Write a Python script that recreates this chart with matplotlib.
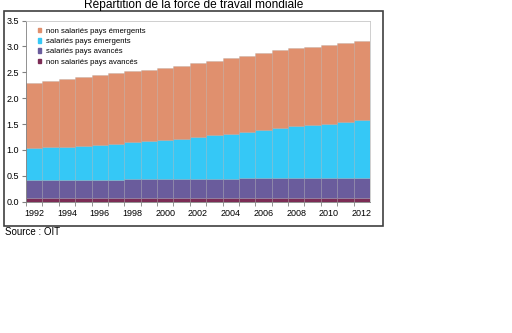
import matplotlib
matplotlib.use("Agg")
import matplotlib.pyplot as plt
import numpy as np
from matplotlib.patches import Rectangle

plt.rcParams['font.family'] = ['Liberation Sans', 'DejaVu Sans']

years = list(range(1992, 2013))
total = [2.29, 2.33, 2.37, 2.40, 2.44, 2.48, 2.52, 2.55, 2.59, 2.62, 2.67,
         2.71, 2.77, 2.82, 2.87, 2.93, 2.96, 2.99, 3.02, 3.06, 3.11]
blue_top = [1.04, 1.05, 1.06, 1.08, 1.10, 1.12, 1.15, 1.17, 1.20, 1.22, 1.25,
            1.28, 1.31, 1.34, 1.38, 1.43, 1.46, 1.48, 1.50, 1.53, 1.57]
purple_top = [0.41, 0.41, 0.41, 0.42, 0.42, 0.42, 0.43, 0.43, 0.43, 0.44, 0.44,
              0.44, 0.44, 0.45, 0.45, 0.45, 0.46, 0.46, 0.46, 0.46, 0.46]
red_top = [0.07] * 21

non_sal_av = np.array(red_top)
sal_av = np.array(purple_top) - non_sal_av
sal_em = np.array(blue_top) - np.array(purple_top)
non_sal_em = np.array(total) - np.array(blue_top)

labels = ["non salariés pays émergents", "salariés pays émergents",
          "salariés pays avancés", "non salariés pays avancés"]
colors = ["#E0906E", "#35C8F6", "#6A5C9C", "#7C2C55"]

fig = plt.figure(figsize=(5.12, 3.33), dpi=100)
ax = fig.add_axes([26/512, 1-201.7/333, 344/512, 181.2/333])

x = np.arange(len(years))
series = [non_sal_av, sal_av, sal_em, non_sal_em]
cols = [colors[3], colors[2], colors[1], colors[0]]
bottom = np.zeros(len(years))
for s, c in zip(series, cols):
    ax.bar(x, s, bottom=bottom, width=1.0, color=c, edgecolor=(0.6, 0.6, 0.6, 0.3),
           linewidth=0.5)
    bottom = bottom + s

ax.set_xlim(-0.5, len(years) - 0.5)
ax.set_ylim(0, 3.5)
ax.set_yticks(np.arange(0, 3.51, 0.5))
ax.set_yticklabels([f"{v:.1f}" for v in np.arange(0, 3.51, 0.5)], fontsize=6.5)
ax.set_xticks(x[::2])
ax.set_xticklabels([str(y) for y in years[::2]], fontsize=6.5)
ax.set_xticks(x - 0.5, minor=True)
ax.tick_params(axis='x', which='major', length=0, pad=5)
ax.tick_params(axis='x', which='minor', length=3, color='#808080')
ax.tick_params(axis='y', length=3, color='#808080', pad=2)
for side in ['top', 'right']:
    ax.spines[side].set_color('#c8c8c8')
    ax.spines[side].set_linewidth(0.6)
for side in ['left', 'bottom']:
    ax.spines[side].set_color('#808080')
    ax.spines[side].set_linewidth(0.6)

handles = [Rectangle((0, 0), 1, 1, color=c) for c in colors]
leg = ax.legend(handles, labels, loc='upper left', bbox_to_anchor=(0.02, 0.985),
                frameon=False, fontsize=5.6, handlelength=0.5, handleheight=0.5,
                handletextpad=0.6, labelspacing=0.42, borderaxespad=0.2)

fig.patches.append(Rectangle((4/512, 1-226/333), 379/512, 215/333,
                             transform=fig.transFigure, fill=False,
                             edgecolor='#404040', linewidth=1.2))
fig.text(194/512, 1-5/333, "Répartition de la force de travail mondiale",
         ha='center', va='center', fontsize=8.6)
fig.text(5/512, 1-232/333, "Source : OIT", ha='left', va='center', fontsize=7)

fig.savefig("out.png", dpi=100)
